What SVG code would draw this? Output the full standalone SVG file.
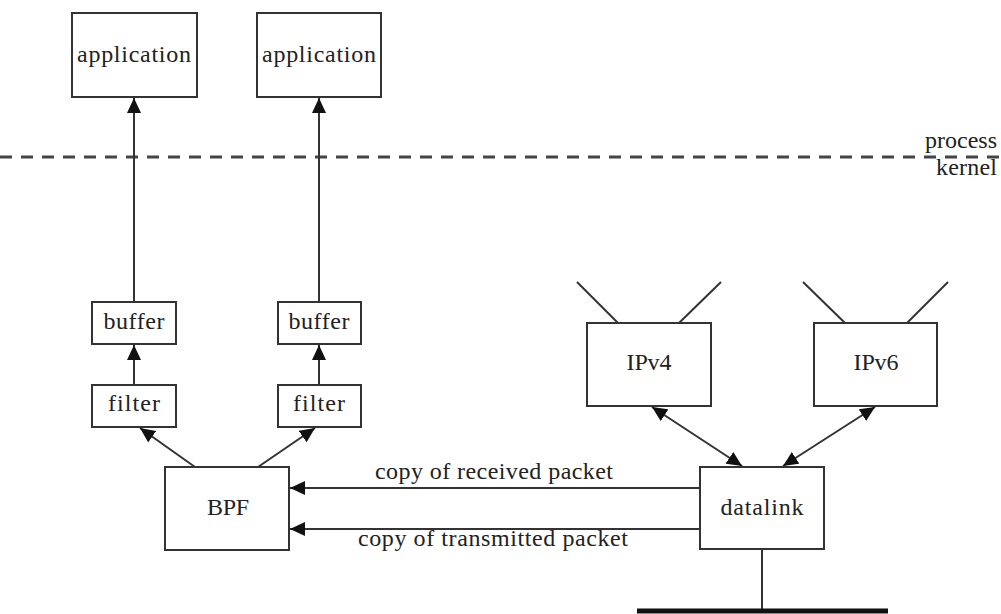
<svg xmlns="http://www.w3.org/2000/svg" width="1001" height="614" viewBox="0 0 1001 614">
<style>
.box{fill:#fff;stroke:#333;stroke-width:2}
.t{font-family:"Liberation Serif",serif;font-size:24px;fill:#222;text-anchor:middle}
.c{stroke:#333;stroke-width:2;fill:none}
</style>
<defs>
<marker id="ah" markerUnits="userSpaceOnUse" markerWidth="16" markerHeight="14" refX="15" refY="7" orient="auto-start-reverse">
<path d="M0,0 L15,7 L0,14 z" fill="#111"/>
</marker>
</defs>
<rect width="1001" height="614" fill="#fff"/>
<line x1="0" y1="157" x2="1001" y2="157" stroke="#444" stroke-width="3" stroke-dasharray="12 9"/>
<text class="t" x="997" y="148" style="text-anchor:end" textLength="72">process</text>
<text class="t" x="997" y="175" style="text-anchor:end" textLength="61">kernel</text>

<g id="connectors">
<line class="c" x1="134" y1="302" x2="134" y2="98" marker-end="url(#ah)"/>
<line class="c" x1="319" y1="302" x2="319" y2="98" marker-end="url(#ah)"/>
<line class="c" x1="134" y1="385" x2="134" y2="345" marker-end="url(#ah)"/>
<line class="c" x1="319" y1="385" x2="319" y2="345" marker-end="url(#ah)"/>
<line class="c" x1="195" y1="467" x2="140" y2="428" marker-end="url(#ah)"/>
<line class="c" x1="258" y1="467" x2="315" y2="428" marker-end="url(#ah)"/>
<line class="c" x1="700" y1="488" x2="290" y2="488" marker-end="url(#ah)"/>
<line class="c" x1="700" y1="529" x2="290" y2="529" marker-end="url(#ah)"/>
<line class="c" x1="652" y1="407" x2="742" y2="466" marker-start="url(#ah)" marker-end="url(#ah)"/>
<line class="c" x1="875" y1="407" x2="783" y2="466" marker-start="url(#ah)" marker-end="url(#ah)"/>
<line class="c" x1="762" y1="549" x2="762" y2="611"/>
<line x1="637" y1="611" x2="888" y2="611" stroke="#111" stroke-width="5"/>
<line class="c" x1="618" y1="323" x2="577" y2="282"/>
<line class="c" x1="679" y1="323" x2="721" y2="282"/>
<line class="c" x1="845" y1="323" x2="803" y2="282"/>
<line class="c" x1="907" y1="323" x2="948" y2="282"/>
<text class="t" x="494" y="479" textLength="238">copy of received packet</text>
<text class="t" x="493" y="546" textLength="270">copy of transmitted packet</text>
</g>

<g id="app1"><rect class="box" x="72" y="13" width="125" height="84"/><text class="t" x="134" y="62" textLength="114">application</text></g>
<g id="app2"><rect class="box" x="257" y="13" width="124" height="84"/><text class="t" x="319" y="62" textLength="114">application</text></g>
<g id="buffer1"><rect class="box" x="92" y="302" width="84" height="42"/><text class="t" x="134" y="329" textLength="61">buffer</text></g>
<g id="buffer2"><rect class="box" x="278" y="302" width="83" height="42"/><text class="t" x="319" y="329" textLength="61">buffer</text></g>
<g id="filter1"><rect class="box" x="92" y="385" width="84" height="42"/><text class="t" x="134" y="411" textLength="52">filter</text></g>
<g id="filter2"><rect class="box" x="278" y="385" width="83" height="42"/><text class="t" x="319" y="411" textLength="52">filter</text></g>
<g id="bpf"><rect class="box" x="165" y="467" width="124" height="83"/><text class="t" x="228" y="515" textLength="42">BPF</text></g>
<g id="datalink"><rect class="box" x="700" y="467" width="124" height="82"/><text class="t" x="762" y="515" textLength="83">datalink</text></g>
<g id="ipv4"><rect class="box" x="587" y="323" width="124" height="83"/><text class="t" x="649" y="370" textLength="45">IPv4</text></g>
<g id="ipv6"><rect class="box" x="814" y="323" width="123" height="83"/><text class="t" x="876" y="370" textLength="45">IPv6</text></g>
</svg>
